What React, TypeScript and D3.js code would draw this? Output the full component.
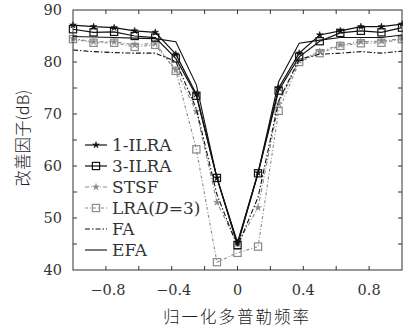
import React from "react";
import * as d3 from "d3";

const dopplerX = [-1, -0.875, -0.75, -0.625, -0.5, -0.375, -0.25, -0.125, 0, 0.125, 0.25, 0.375, 0.5, 0.625, 0.75, 0.875, 1];

const ilra1 = [87.1, 86.8, 86.6, 86.0, 85.7, 81.5, 73.8, 57.7, 45.3, 58.7, 75.0, 81.7, 85.2, 86.0, 86.8, 86.8, 87.3];
const ilra3 = [86.3, 85.7, 85.8, 85.0, 84.7, 80.7, 73.5, 57.7, 44.8, 58.6, 74.5, 81.0, 84.0, 85.6, 86.0, 85.7, 86.6];
const stsf = [84.5, 83.9, 83.9, 83.3, 83.6, 78.5, 70.5, 53.0, 45.0, 52.0, 72.0, 80.3, 82.0, 83.3, 83.9, 84.0, 84.5];
const lra3 = [84.4, 83.7, 83.7, 82.9, 83.3, 78.3, 63.2, 41.5, 43.3, 44.5, 70.6, 80.0, 81.7, 83.1, 83.6, 83.7, 84.4];
const fa = [82.3, 82.0, 81.8, 81.7, 81.7, 80.1, 71.0, 54.5, 44.5, 54.0, 72.5, 80.5, 81.5, 81.7, 82.0, 81.7, 82.1];
const efa = [84.9, 84.8, 84.7, 84.6, 84.5, 83.9, 75.6, 57.7, 45.0, 58.7, 76.2, 83.6, 84.2, 84.7, 84.7, 84.7, 85.2];

const xTickLabels = [-0.8, -0.4, 0, 0.4, 0.8];
const xMinorTicks = [-0.8, -0.6, -0.4, -0.2, 0, 0.2, 0.4, 0.6, 0.8];
const yTickLabels = [40, 50, 60, 70, 80, 90];
const yMinorTicks = [45, 50, 55, 60, 65, 70, 75, 80, 85];

type Series = {
  name: string;
  values: number[];
  color: string;
  dash: string;
  marker: "star" | "square" | "none";
  width: number;
};

const series: Series[] = [
  { name: "LRA", values: lra3, color: "#8a8a8a", dash: "3,2,1,2", marker: "square", width: 1.1 },
  { name: "STSF", values: stsf, color: "#8a8a8a", dash: "4,2,1,2", marker: "star", width: 1.1 },
  { name: "FA", values: fa, color: "#111", dash: "5,2,1.5,2", marker: "none", width: 1.1 },
  { name: "EFA", values: efa, color: "#111", dash: "", marker: "none", width: 1.1 },
  { name: "3-ILRA", values: ilra3, color: "#111", dash: "", marker: "square", width: 1.2 },
  { name: "1-ILRA", values: ilra1, color: "#111", dash: "", marker: "star", width: 1.2 },
];

const legendOrder = ["1-ILRA", "3-ILRA", "STSF", "LRA", "FA", "EFA"];

const W = 403;
const H = 331;
const L = 73;
const R = 402;
const T = 10;
const B = 270;

const xScale = d3.scaleLinear().domain([-1, 1]).range([L, R]);
const yScale = d3.scaleLinear().domain([40, 90]).range([B, T]);

const starPath = d3.symbol().type(d3.symbolStar).size(14)() as string;

function Marker({ kind, x, y, color }: { kind: string; x: number; y: number; color: string }) {
  if (kind === "square") {
    return <rect x={x - 3.6} y={y - 3.6} width={7.2} height={7.2} fill="none" stroke={color} strokeWidth={1.2} />;
  }
  if (kind === "star") {
    return <path d={starPath} transform={`translate(${x},${y})`} fill={color} stroke={color} strokeWidth={0.5} />;
  }
  return null;
}

function fmt(v: number) {
  if (v === 0) return "0";
  return (v < 0 ? "\u2212" : "") + Math.abs(v).toString();
}

export default function App() {
  const line = d3
    .line<number>()
    .x((_, i) => xScale(dopplerX[i]))
    .y((d) => yScale(d));

  const serif = "'DejaVu Serif', serif";
  const byName = (n: string) => series.find((s) => s.name === n)!;

  return (
    <svg width={W} height={H} style={{ position: "absolute", left: 0, top: 0, background: "#fff" }}>
      <rect x={0} y={0} width={W} height={H} fill="#fff" />
      {series.map((s) => (
        <g key={s.name}>
          <path d={line(s.values) as string} fill="none" stroke={s.color} strokeWidth={s.width} strokeDasharray={s.dash || undefined} />
          {s.marker !== "none" &&
            s.values.map((v, i) => <Marker key={i} kind={s.marker} x={xScale(dopplerX[i])} y={yScale(v)} color={s.color} />)}
        </g>
      ))}
      <rect x={L} y={T} width={R - L} height={B - T} fill="none" stroke="#333" strokeWidth={1} />
      {xMinorTicks.map((t) => (
        <g key={"xt" + t}>
          <line x1={xScale(t)} x2={xScale(t)} y1={B} y2={B - 4} stroke="#333" />
          <line x1={xScale(t)} x2={xScale(t)} y1={T} y2={T + 4} stroke="#333" />
        </g>
      ))}
      {yMinorTicks.map((t) => (
        <g key={"yt" + t}>
          <line x1={L} x2={L + 4} y1={yScale(t)} y2={yScale(t)} stroke="#333" />
          <line x1={R} x2={R - 4} y1={yScale(t)} y2={yScale(t)} stroke="#333" />
        </g>
      ))}
      {xTickLabels.map((t) => (
        <text key={"xl" + t} x={xScale(t) + (t < 0 ? 2 : 0)} y={295} textAnchor="middle" fontFamily={serif} fontSize={14.5} fill="#333">
          {fmt(t)}
        </text>
      ))}
      {yTickLabels.map((t) => (
        <text key={"yl" + t} x={62} y={yScale(t) + 5} textAnchor="end" fontFamily={serif} fontSize={14.5} fill="#333">
          {t}
        </text>
      ))}
      <text x={237} y={323} textAnchor="middle" fontFamily="'Noto Sans CJK SC', sans-serif" fontWeight={300} fontSize={16.5} letterSpacing={2} fill="#222">
        归一化多普勒频率
      </text>
      <text
        transform="translate(29,138) rotate(-90)"
        textAnchor="middle"
        fontFamily="'Noto Sans CJK SC', sans-serif"
        fontWeight={300}
        fontSize={16.5}
        fill="#222"
      >
        改善因子(dB)
      </text>
      {legendOrder.map((n, i) => {
        const s = byName(n);
        const y = 145 + i * 21;
        return (
          <g key={"lg" + n}>
            <line x1={85} x2={107} y1={y} y2={y} stroke={s.color} strokeWidth={s.width} strokeDasharray={s.dash || undefined} />
            {s.marker !== "none" && <Marker kind={s.marker} x={96} y={y} color={s.color} />}
            <text x={112} y={y + 6} fontFamily={serif} fontSize={17} fill="#333">
              {n === "LRA" ? (
                <>
                  LRA(<tspan fontStyle="italic">D</tspan>=3)
                </>
              ) : (
                n
              )}
            </text>
          </g>
        );
      })}
    </svg>
  );
}
